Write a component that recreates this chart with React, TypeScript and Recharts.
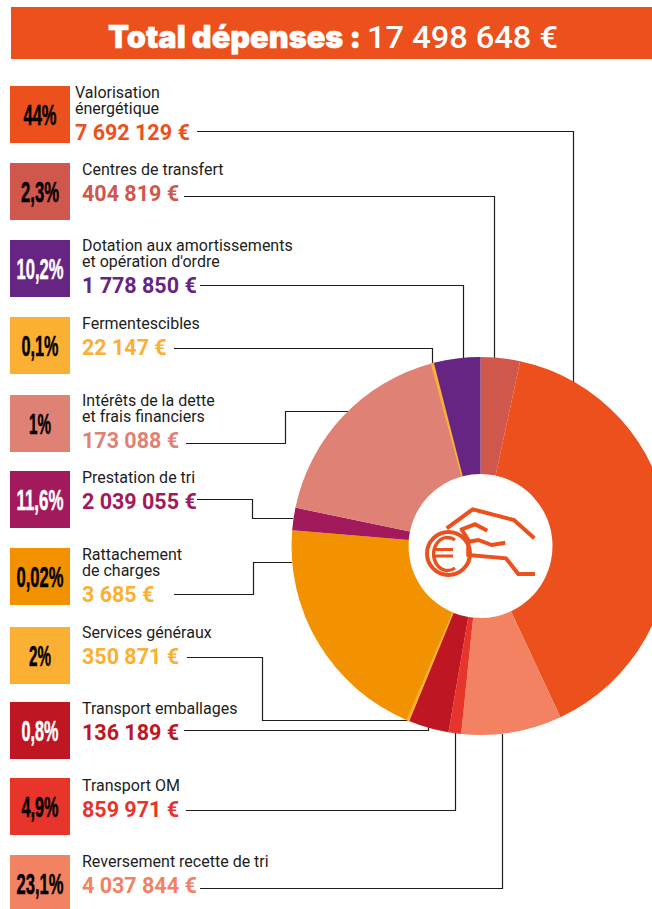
import { PieChart, Pie, Cell, Customized } from "recharts";

const categories = [
    "Valorisation énergétique",
    "Centres de transfert",
    "Dotation aux amortissements et opération d'ordre",
    "Fermentescibles",
    "Intérêts de la dette et frais financiers",
    "Prestation de tri",
    "Rattachement de charges",
    "Services généraux",
    "Transport emballages",
    "Transport OM",
    "Reversement recette de tri",
]
const nameLines = [
    ["Valorisation", "énergétique"],
    ["Centres de transfert"],
    ["Dotation aux amortissements", "et opération d'ordre"],
    ["Fermentescibles"],
    ["Intérêts de la dette", "et frais financiers"],
    ["Prestation de tri"],
    ["Rattachement", "de charges"],
    ["Services généraux"],
    ["Transport emballages"],
    ["Transport OM"],
    ["Reversement recette de tri"],
]
const amounts = ["7 692 129 €", "404 819 €", "1 778 850 €", "22 147 €", "173 088 €", "2 039 055 €", "3 685 €", "350 871 €", "136 189 €", "859 971 €", "4 037 844 €"]
const percents = ["44%", "2,3%", "10,2%", "0,1%", "1%", "11,6%", "0,02%", "2%", "0,8%", "4,9%", "23,1%"]

// share of the ring as drawn in the picture, same order as categories
const sliceShares = [39.7, 3.36, 3.97, 0.22, 17.56, 1.92, 19.94, 0.22, 3.47, 1.08, 8.58]
// clockwise from 12 o'clock
const pieOrder = [1, 0, 10, 9, 8, 7, 6, 5, 4, 3, 2]

const fills = ["#EB501D", "#D0574B", "#662483", "#FBB034", "#DF8175", "#A21A5B", "#F39200", "#FBB034", "#BE1622", "#E8352B", "#F38263"]
const amountColors = ["#EB501D", "#D0574B", "#662483", "#FBB034", "#DF8175", "#A21A5B", "#FBB034", "#FBB034", "#BE1622", "#E8352B", "#F38263"]
const percentColors = ["#000", "#000", "#fff", "#000", "#000", "#fff", "#000", "#000", "#fff", "#000", "#000"]
const percentWidths = [33, 38, 47, 37, 22, 47, 47, 22, 37, 37, 47]

const boxTops = [86, 163, 240, 317, 395, 471, 548, 627, 702, 778, 855]
const textX = [75, 82, 82, 82, 82, 82, 82, 82, 82, 82, 82]
const amountY = [140, 201, 293, 355, 448, 509, 602, 664, 740, 817, 893]

const connectors = [
    "197,131.5 573.5,131.5 573.5,382",
    "184,196.5 494.5,196.5 494.5,358",
    "200,285.5 463.5,285.5 463.5,358",
    "174,348.5 432.5,348.5 432.5,364",
    "186,443.5 285.5,443.5 285.5,411.5 349,411.5",
    "197,499.5 252.5,499.5 252.5,518.5 293,518.5",
    "174,594.5 253.5,594.5 253.5,562.5 292,562.5",
    "187,657.5 262.5,657.5 262.5,720.5 408,720.5",
    "184,730.5 428.5,730.5 428.5,726",
    "186,810.5 455.5,810.5 455.5,732",
    "200,888.5 502.5,888.5 502.5,734",
]

const pieData = pieOrder.map(i => ({ name: categories[i], value: sliceShares[i], fill: fills[i], sliver: sliceShares[i] < 0.5 }))

function Overlay() {
    return (
        <g>
            <rect x={11} y={7} width={641} height={52} fill="#EB501D" />
            <text x={108} y={48} fontFamily="Inter" fontWeight={900} fontSize={31} fill="#fff" stroke="#fff" strokeWidth={0.5} textLength={253} lengthAdjust="spacingAndGlyphs">Total dépenses :</text>
            <text x={367} y={48} fontFamily="Roboto" fontWeight={500} fontSize={32} fill="#fff" textLength={191} lengthAdjust="spacingAndGlyphs">17 498 648 €</text>

            {connectors.map((points, i) => (
                <polyline key={i} points={points} fill="none" stroke="#1d1d1b" strokeWidth={1.2} />
            ))}

            {categories.map((c, i) => (
                <g key={c}>
                    <rect x={10} y={boxTops[i]} width={60} height={57} fill={fills[i]} />
                    <text
                        x={40}
                        y={boxTops[i] + 39}
                        textAnchor="middle"
                        fontFamily="Liberation Sans"
                        fontWeight={700}
                        fontSize={29}
                        fill={percentColors[i]}
                        stroke={percentColors[i]}
                        strokeWidth={0.5}
                        textLength={percentWidths[i]}
                        lengthAdjust="spacingAndGlyphs"
                    >
                        {percents[i]}
                    </text>
                    {nameLines[i].map((line, j) => (
                        <text
                            key={line}
                            x={textX[i]}
                            y={amountY[i] - 26 + (j - nameLines[i].length + 1) * 16}
                            fontFamily="Roboto"
                            fontSize={16}
                            fill="#1d1d1b"
                        >
                            {line}
                        </text>
                    ))}
                    <text x={textX[i]} y={amountY[i]} fontFamily="Roboto" fontWeight={700} fontSize={21.5} fill={amountColors[i]}>
                        {amounts[i]}
                    </text>
                </g>
            ))}

            {/* hand and coin in the hole */}
            <g fill="none" stroke="#EB501D" strokeWidth={4}>
                <circle cx={448.5} cy={553.5} r={21.5} />
                <path d="M455 540 A14 16.5 0 1 0 455 568" strokeWidth={3.4} />
                <path d="M434 549.5 H453 M434 556 H453" strokeWidth={2.8} />
                <polyline points="446.7,528.3 472.7,509.3 514,520 534.3,538.3" />
                <polyline points="460,530 475,524.3 487.3,530.7" />
                <polyline points="462,530 468.3,540 468.3,555 506,558.3 518.3,574 535,574" />
                <polyline points="468.3,541.7 478.3,540 491.7,545 505.3,542.7" />
            </g>
        </g>
    )
}

export default function App() {
    return (
        <div style={{ position: "absolute", left: 0, top: 0, width: 652, height: 909, overflow: "hidden", background: "#fff" }}>
            <PieChart width={652} height={909} margin={{ top: 0, right: 0, bottom: 0, left: 0 }}>
                <Pie
                    data={pieData}
                    dataKey="value"
                    nameKey="name"
                    cx={480.5}
                    cy={546}
                    innerRadius={72}
                    outerRadius={189}
                    startAngle={90}
                    endAngle={-270}
                    stroke="none"
                    isAnimationActive={false}
                >
                    {pieData.map(d => (
                        <Cell key={d.name} fill={d.fill} stroke={d.sliver ? d.fill : "none"} strokeWidth={d.sliver ? 1 : 0} />
                    ))}
                </Pie>
                <Customized component={Overlay} />
            </PieChart>
        </div>
    )
}
